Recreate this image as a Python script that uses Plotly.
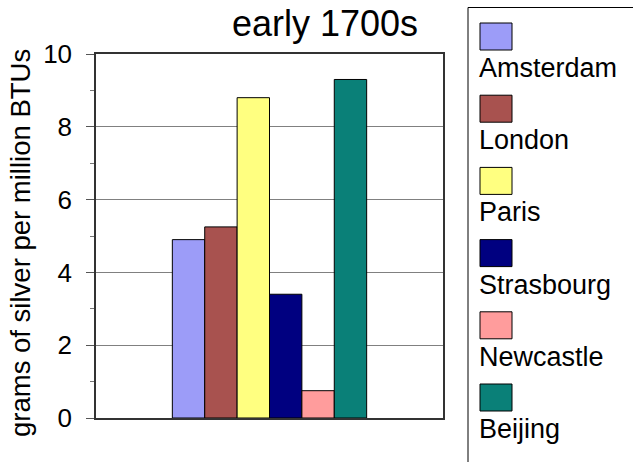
import plotly.graph_objects as go

cities = ["Amsterdam", "London", "Paris", "Strasbourg", "Newcastle", "Beijing"]
values = [4.9, 5.25, 8.8, 3.4, 0.75, 9.3]
colors = ["#9C9CF8", "#A8524F", "#FFFF80", "#000080", "#FF9C9C", "#0A8078"]
category = ["early 1700s"]
title_text = "early 1700s"
y_title = "grams of silver per million BTUs"
y_ticks = [0, 2, 4, 6, 8, 10]

W, H = 633, 462
L, R, T, B = 96, 443, 54, 418
FONT = "Arial, Liberation Sans, sans-serif"

def px(x):
    return (x - L) / (R - L)

def py(y):
    return (B - y) / (B - T)

fig = go.Figure()
for name, v, c in zip(cities, values, colors):
    fig.add_trace(go.Bar(x=category, y=[v], name=name,
                         marker=dict(color=c, line=dict(color="#000000", width=1))))

shapes = []
annotations = []
# legend box
shapes.append(dict(type="rect", xref="paper", yref="paper",
                   x0=px(468), x1=px(640), y0=py(470), y1=py(7.5),
                   line=dict(color="#000000", width=1), fillcolor="rgba(0,0,0,0)"))
for i, (name, c) in enumerate(zip(cities, colors)):
    top = 23 + i * 72.2
    shapes.append(dict(type="rect", xref="paper", yref="paper",
                       x0=px(480), x1=px(512), y0=py(top + 27), y1=py(top),
                       line=dict(color="#000000", width=1), fillcolor=c))
    annotations.append(dict(text=name, xref="paper", yref="paper",
                            x=px(477), y=py(top + 45), xanchor="left", yanchor="middle",
                            showarrow=False, font=dict(family=FONT, size=27, color="#000000")))

annotations.append(dict(text=title_text, xref="paper", yref="paper",
                        x=px(324.5), y=py(1), xanchor="center", yanchor="top",
                        showarrow=False, font=dict(family=FONT, size=36, color="#000000")))
annotations.append(dict(text=y_title, xref="paper", yref="paper",
                        x=px(21), y=py(243), xanchor="center", yanchor="middle",
                        textangle=-90, showarrow=False,
                        font=dict(family=FONT, size=27.5, color="#000000")))

fig.update_layout(
    width=W, height=H,
    margin=dict(l=L, r=W - R, t=T, b=H - B, pad=0),
    paper_bgcolor="#FFFFFF", plot_bgcolor="#FFFFFF",
    barmode="group", bargap=0.44, bargroupgap=0,
    showlegend=False,
    font=dict(family=FONT, size=24, color="#000000"),
    shapes=shapes, annotations=annotations,
    xaxis=dict(showticklabels=False, showgrid=False, showline=True, mirror=True,
               linecolor="#333333", linewidth=1.5, ticks="", zeroline=False),
    yaxis=dict(range=[0, 10], tickvals=y_ticks, ticks="outside", ticklen=8,
               tickcolor="#555555", showgrid=True, gridcolor="#808080", gridwidth=1,
               showline=True, mirror=True, linecolor="#333333", linewidth=1.5,
               zeroline=False, ticklabelstandoff=9,
               tickfont=dict(family=FONT, size=26, color="#000000"),
               minor=dict(dtick=1, ticks="outside", ticklen=4, tickcolor="#777777", showgrid=False)),
)

fig.write_html("out.html")
